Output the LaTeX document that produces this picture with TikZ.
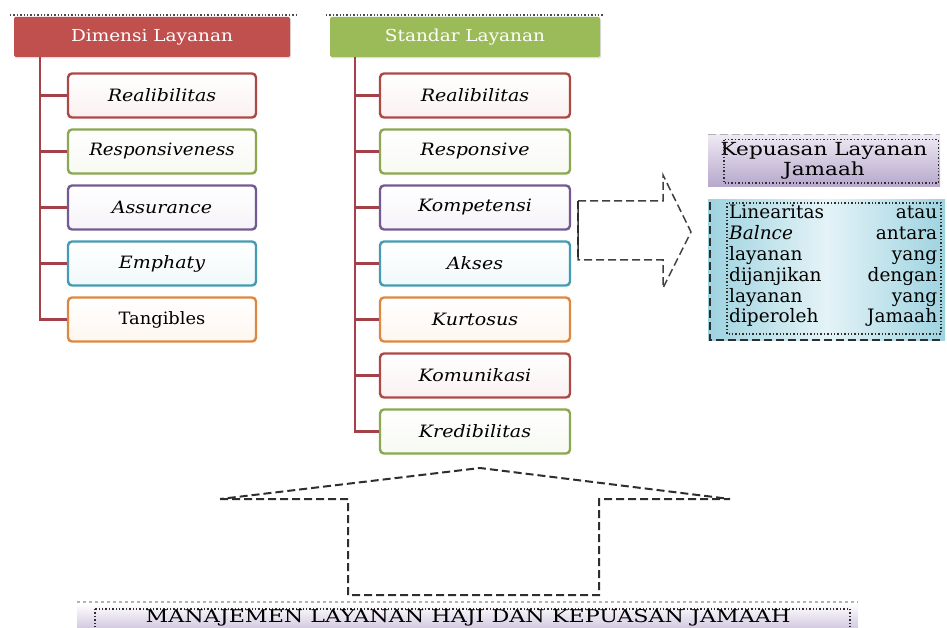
\documentclass[tikz,border=0pt]{standalone}
\usepackage{fontspec}
\setmainfont{DejaVu Serif}
\usetikzlibrary{calc,shadows}
\definecolor{cred}{HTML}{C0504D}
\definecolor{cgreen}{HTML}{9BBB59}
\definecolor{cpurple}{HTML}{8064A2}
\definecolor{cteal}{HTML}{4BACC6}
\definecolor{corange}{HTML}{F79646}
\definecolor{trunk}{HTML}{A3404A}
\definecolor{lav1}{HTML}{EEEAF3}
\definecolor{lav2}{HTML}{B6A6CC}
\definecolor{aq1}{HTML}{9ED3E0}
\definecolor{aq2}{HTML}{E4F3F7}
\definecolor{dashcol}{HTML}{2E2E2E}
\newcommand{\widetxt}[2][1.12]{\scalebox{#1}[1]{#2}}
\tikzset{
  hdr/.style={fill=#1, text=white, minimum height=40pt, inner sep=0pt,
    rounded corners=1.5pt, drop shadow={opacity=0.25,shadow xshift=1pt,shadow yshift=-1.5pt},
    font=\fontsize{16.5}{18}\selectfont},
  child/.style={draw=#1!90!black, line width=2.4pt, rounded corners=4pt, top color=white,
    bottom color=#1!8, minimum height=44pt, inner sep=0pt,
    font=\fontsize{17}{19}\selectfont\itshape},
  conn/.style={draw=trunk, line width=2.8pt},
  dsh/.style={draw=dashcol, dash pattern=on 8pt off 4pt, line width=2pt},
}
\begin{document}
\begin{tikzpicture}[x=1pt,y=-1pt]
\useasboundingbox (0,0) rectangle (947,628);

% headers
\draw[dotted, line width=1.4pt, gray!60!black] (10,15) -- (296,15);
\draw[dotted, line width=1.4pt, gray!60!black] (326,15) -- (604,15);
\node[hdr=cred, minimum width=276pt] (hL) at (152,37) {\widetxt{Dimensi Layanan}};
\node[hdr=cgreen, minimum width=270pt] (hM) at (465,37) {\widetxt{Standar Layanan}};

% left children
\node[child=cred, minimum width=188pt] (L1) at (162,95.5) {\widetxt{Realibilitas}};
\node[child=cgreen, minimum width=188pt] (L2) at (162,151.5) {\widetxt[1.07]{Responsiveness}};
\node[child=cpurple, minimum width=188pt] (L3) at (162,207.5) {\widetxt{Assurance}};
\node[child=cteal, minimum width=188pt] (L4) at (162,263.5) {\widetxt{Emphaty}};
\node[child=corange, minimum width=188pt, font=\fontsize{17}{19}\selectfont] (L5) at (162,319.5) {\widetxt[1.05]{Tangibles}};

% middle children
\node[child=cred, minimum width=190pt] (M1) at (475,95.5) {\widetxt{Realibilitas}};
\node[child=cgreen, minimum width=190pt] (M2) at (475,151.5) {\widetxt{Responsive}};
\node[child=cpurple, minimum width=190pt] (M3) at (475,207.5) {\widetxt{Kompetensi}};
\node[child=cteal, minimum width=190pt] (M4) at (475,263.5) {\widetxt{Akses}};
\node[child=corange, minimum width=190pt] (M5) at (475,319.5) {\widetxt{Kurtosus}};
\node[child=cred, minimum width=190pt] (M6) at (475,375.5) {\widetxt{Komunikasi}};
\node[child=cgreen, minimum width=190pt] (M7) at (475,431.5) {\widetxt{Kredibilitas}};

% trunks
\coordinate (tL) at (40,57);
\coordinate (tM) at (355,57);
\draw[conn] (tL) |- (L5.west);
\foreach \n in {L1,L2,L3,L4} \draw[conn] (tL |- \n.west) -- (\n.west);
\draw[conn] (tM) |- (M7.west);
\foreach \n in {M1,M2,M3,M4,M5,M6} \draw[conn] (tM |- \n.west) -- (\n.west);

% block arrow to the right
\draw[dsh, line width=1.5pt, draw=gray!50!black] (578,201) -- (663,201) -- (663,175) -- (691,232) -- (663,288) -- (663,260) -- (578,260) -- cycle;
\draw[dsh, line width=2.2pt] (578,201) -- (578,260);

% Kepuasan box
\node[top color=lav1, bottom color=lav2, minimum width=232pt, minimum height=52pt,
      align=center, inner sep=0pt, font=\fontsize{18}{19.5}\selectfont] (kep) at (824,161)
      {\widetxt[1.2]{Kepuasan Layanan}\\\widetxt[1.2]{Jamaah}};
\draw[dsh, draw=gray!60, line width=1.2pt] (kep.north west) -- (kep.north east);
\draw[dotted, line width=1.4pt, dashcol] ($(kep.north west)+(16,5)$) rectangle ($(kep.south east)+(-2,-4)$);

% Linearitas box
\shade[left color=aq1, right color=aq1, middle color=aq2] (708,200) rectangle (945,340);
\node[text width=208pt, align=left, inner sep=0pt, anchor=north west,
      font=\fontsize{18.5}{20.8}\selectfont] (lin) at (729,205)
 {Linearitas\hfill atau\\ \textit{Balnce}\hfill antara\\ layanan\hfill yang\\
  dijanjikan\hfill dengan\\ layanan\hfill yang\\ diperoleh\hfill Jamaah};
\draw[dotted, line width=1.4pt, dashcol] (727,203) rectangle (941,334);
\draw[dsh, line width=1.4pt] (710,202) -- (710,340) -- (941,340);

% house arrow at the bottom
\draw[dsh] (220,499) -- (348,499) -- (348,595) -- (599,595) -- (599,499) -- (730,499) -- (480,468) -- cycle;

% bottom bar
\shade[top color=white, bottom color=lav2!60] (77,604) rectangle (858,628);
\draw[dashed, gray!60, line width=1.2pt] (77,602) -- (858,602);
\draw[dotted, line width=1.4pt, dashcol] (95,609) rectangle (850,630);
\node[inner sep=0pt, font=\fontsize{17.5}{18}\selectfont] (bar) at (468,618)
  {\widetxt[1.27]{MANAJEMEN LAYANAN HAJI DAN KEPUASAN JAMAAH}};
\end{tikzpicture}
\end{document}
